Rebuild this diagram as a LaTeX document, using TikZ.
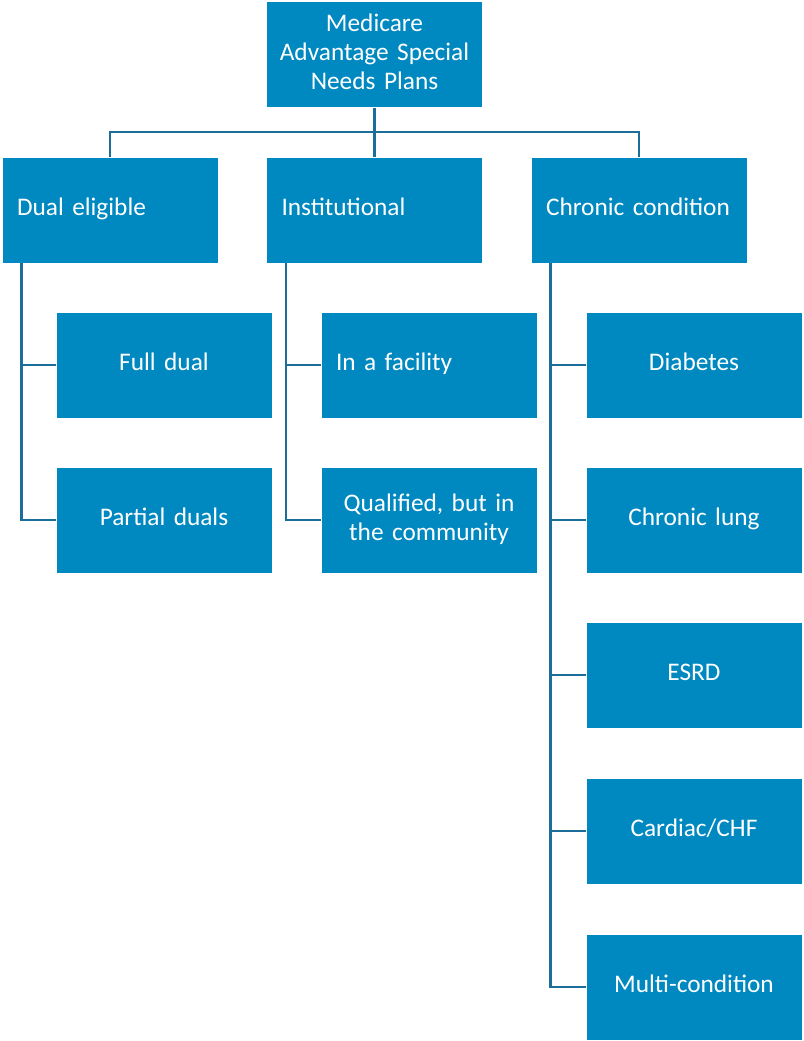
\documentclass[tikz,border=0pt]{standalone}
\usepackage{fontspec}
\setmainfont{Carlito}
\usetikzlibrary{positioning}

\definecolor{boxblue}{HTML}{0088C0}
\definecolor{lineblue}{HTML}{1A6E99}

\tikzset{
	box/.style={draw=white, line width=0.6pt, fill=boxblue, text=white, font=\fontsize{19}{21.75}\selectfont,
		text width=154pt, inner xsep=4pt, inner ysep=0pt, minimum height=79.5pt, align=center,
		execute at begin node={\strut}, execute at end node={\strut}},
	leftbox/.style={box, align=left, execute at begin node={\hspace*{7.25pt}}},
	link/.style={draw=lineblue, line width=2pt}
}

\begin{document}
\begin{tikzpicture}[x=0.75pt, y=-0.75pt]
		\useasboundingbox (0,0) rectangle (803,1041);
		
		% top
		\node[box] (root) at (374.5,54.5) {Medicare\\Advantage Special\\Needs Plans};
		
		% plan types
		\node[leftbox] (dual) at (110,210) {Dual eligible};
		\node[leftbox] (inst) at (374.5,210) {Institutional};
		\node[leftbox] (chron) at (639,210) {Chronic condition};
		
		% dual eligible
		\node[box] (full) at (164,365) {Full dual};
		\node[box] (partial) at (164,520) {Partial duals};
		
		% institutional
		\node[leftbox] (facility) at (429,365) {In a facility};
		\node[box] (community) at (429,520) {Qualified, but in\\the community};
		
		% chronic condition
		\node[box] (diab) at (694,365) {Diabetes};
		\node[box] (lung) at (694,520) {Chronic lung};
		\node[box] (esrd) at (694,675) {ESRD};
		\node[box] (chf) at (694,831) {Cardiac/CHF};
		\node[box] (multi) at (694,987) {Multi-condition};
		
		% connectors
		\draw[link] (root.south) -- ++(0,24) -| (dual.north);
		\draw[link] (root.south) -- (inst.north);
		\draw[link] (root.south) -- ++(0,24) -| (chron.north);
		
		\foreach \child in {full, partial}
			\draw[link] ([xshift=15pt]dual.south west) |- (\child.west);
		\foreach \child in {facility, community}
			\draw[link] ([xshift=15pt]inst.south west) |- (\child.west);
		\foreach \child in {diab, lung, esrd, chf, multi}
			\draw[link] ([xshift=15pt]chron.south west) |- (\child.west);
		
\end{tikzpicture}
\end{document}
